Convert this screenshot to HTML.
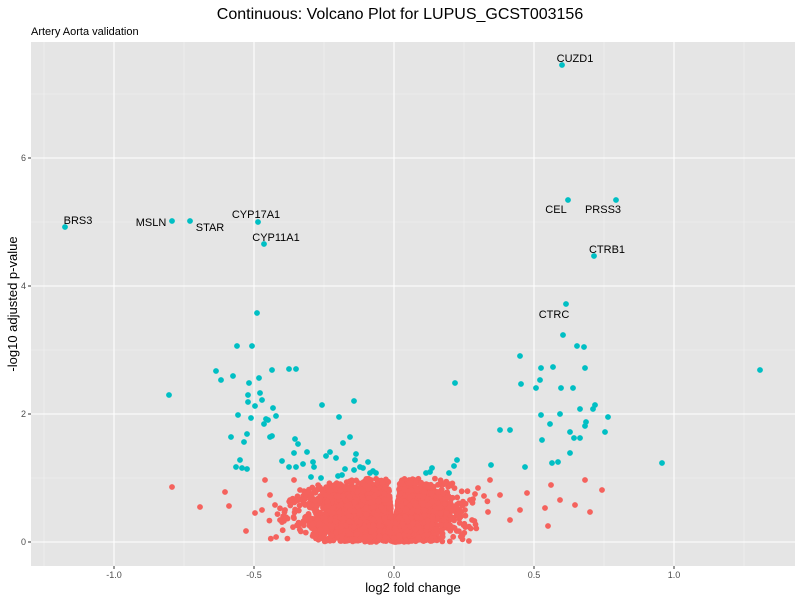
<!DOCTYPE html>
<html><head><meta charset="utf-8"><style>
body{margin:0;background:#fff;}
svg{display:block;font-family:"Liberation Sans",Arial,sans-serif;}
</style></head><body>
<svg id="s" width="800" height="600" xmlns="http://www.w3.org/2000/svg">
<rect x="0" y="0" width="800" height="600" fill="#fff"/>
<rect x="31" y="42" width="764" height="524" fill="#e5e5e5"/>
<g stroke="#f2f2f2" stroke-width="0.6">
<line x1="44" x2="44" y1="42" y2="566"/><line x1="184" x2="184" y1="42" y2="566"/><line x1="324" x2="324" y1="42" y2="566"/><line x1="464" x2="464" y1="42" y2="566"/><line x1="604" x2="604" y1="42" y2="566"/><line x1="744" x2="744" y1="42" y2="566"/>
<line x1="31" x2="795" y1="478" y2="478"/><line x1="31" x2="795" y1="350" y2="350"/><line x1="31" x2="795" y1="222" y2="222"/><line x1="31" x2="795" y1="94" y2="94"/>
</g>
<g stroke="#fff" stroke-width="1.1">
<line x1="114" x2="114" y1="42" y2="566"/><line x1="254" x2="254" y1="42" y2="566"/><line x1="394" x2="394" y1="42" y2="566"/><line x1="534" x2="534" y1="42" y2="566"/><line x1="674" x2="674" y1="42" y2="566"/>
<line x1="31" x2="795" y1="542" y2="542"/><line x1="31" x2="795" y1="414" y2="414"/><line x1="31" x2="795" y1="286" y2="286"/><line x1="31" x2="795" y1="158" y2="158"/>
</g>
<g id="pts"></g>
<g stroke="#333" stroke-width="1">
<line x1="28" x2="31" y1="542" y2="542"/><line x1="28" x2="31" y1="414" y2="414"/><line x1="28" x2="31" y1="286" y2="286"/><line x1="28" x2="31" y1="158" y2="158"/>
<line x1="114" x2="114" y1="566" y2="569"/><line x1="254" x2="254" y1="566" y2="569"/><line x1="394" x2="394" y1="566" y2="569"/><line x1="534" x2="534" y1="566" y2="569"/><line x1="674" x2="674" y1="566" y2="569"/>
</g>
<g font-size="9" fill="#4d4d4d">
<text x="26" y="545" text-anchor="end">0</text><text x="26" y="417" text-anchor="end">2</text><text x="26" y="289" text-anchor="end">4</text><text x="26" y="161" text-anchor="end">6</text>
<text x="114" y="578" text-anchor="middle">-1.0</text><text x="254" y="578" text-anchor="middle">-0.5</text><text x="394" y="578" text-anchor="middle">0.0</text><text x="534" y="578" text-anchor="middle">0.5</text><text x="674" y="578" text-anchor="middle">1.0</text>
</g>
<text x="413" y="592" font-size="13" text-anchor="middle">log2 fold change</text>
<text x="17" y="304" font-size="13" text-anchor="middle" transform="rotate(-90 17 304)">-log10 adjusted p-value</text>
<text x="400" y="19" font-size="16" text-anchor="middle">Continuous: Volcano Plot for LUPUS_GCST003156</text>
<text x="31" y="35" font-size="11">Artery Aorta validation</text>
<g font-size="11" fill="#000" text-anchor="middle">
<text x="575" y="62">CUZD1</text><text x="556" y="213">CEL</text><text x="603" y="213">PRSS3</text><text x="607" y="253">CTRB1</text><text x="554" y="318">CTRC</text>
<text x="256" y="218">CYP17A1</text><text x="276" y="241">CYP11A1</text><text x="210" y="231">STAR</text><text x="151" y="226">MSLN</text><text x="78" y="224">BRS3</text>
</g>
</svg>
<script>
(function(){
var g=document.getElementById('pts'),out=[];
var seed=12345;function r(){seed=(seed*1103515245+12345)%2147483648;return seed/2147483648;}
function n(){return Math.sqrt(-2*Math.log(r()+1e-9))*Math.cos(6.2832*r());}
function dot(x,y,c){out.push('<circle cx="'+x.toFixed(1)+'" cy="'+y.toFixed(1)+'" r="2.9" fill="'+c+'"/>');}
var red='#F5625D',teal='#00BFC4';
for(var i=0;i<3400;i++){
 var left=r()<0.58;var x=Math.abs(n())*(left?0.14:0.1);if(left)x=-x;
 var ax=Math.abs(x);if(ax>0.45){i--;continue;}
 var ym=Math.min(1.0,0.03+ax*45);if(ax>0.2)ym*=Math.max(0.6,1-(ax-0.2)*1.5);
 var cap=Math.min(ym,0.6+0.45*r());
 var y=cap*Math.pow(r(),0.85);
 dot(394+x*280,542-y*64,red);
}
var ro=[[172,487],[200,507],[225,492],[246,531],[255,513],[265,480],[229,506],[262,510],[602,490],[590,512],[548,526],[551,485],[527,493],[575,505],[585,480],[560,500],[520,510],[545,508],[510,520],[490,480],[470,500],[500,495],[280,520],[290,500],[270,495],[478,488],[484,496],[465,510],[472,520],[488,512],[300,490],[294,480],[285,510],[275,505],[305,505]];
ro.forEach(function(p){dot(p[0],p[1],red);});
var t=[[562,65],[568,200],[616,200],[594,256],[566,304],[264,244],[258,222],[190,221],[172,221],[65,227],[257,313],[237,346],[252,346],[216,371],[169,395],[233,376],[259,378],[249,383],[221,380],[248,395],[248,402],[260,393],[272,370],[289,369],[296,369],[322,405],[262,400],[276,416],[268,420],[266,419],[270,437],[272,436],[264,424],[231,437],[247,434],[244,442],[238,415],[251,418],[240,460],[236,467],[242,468],[247,469],[273,408],[255,406],[295,439],[298,444],[294,453],[282,461],[289,467],[296,467],[303,464],[311,477],[313,462],[314,467],[326,456],[330,452],[339,417],[350,437],[343,443],[356,454],[355,460],[360,467],[363,468],[373,471],[368,462],[370,473],[376,473],[345,469],[354,470],[342,475],[307,452],[321,478],[338,476],[336,458],[354,401],[455,383],[520,356],[510,430],[521,384],[536,388],[541,368],[553,367],[563,335],[577,346],[584,347],[540,380],[561,388],[573,388],[585,368],[580,409],[593,409],[595,405],[550,424],[541,415],[542,440],[552,463],[558,462],[570,432],[570,453],[574,438],[580,438],[586,422],[585,426],[560,414],[605,432],[608,417],[662,463],[760,370],[500,430],[491,465],[525,467],[457,460],[454,466],[449,473],[430,472],[426,473],[432,468]];
t.forEach(function(p){dot(p[0],p[1],teal);});
g.innerHTML=out.join('');
})();
</script>
</body></html>
